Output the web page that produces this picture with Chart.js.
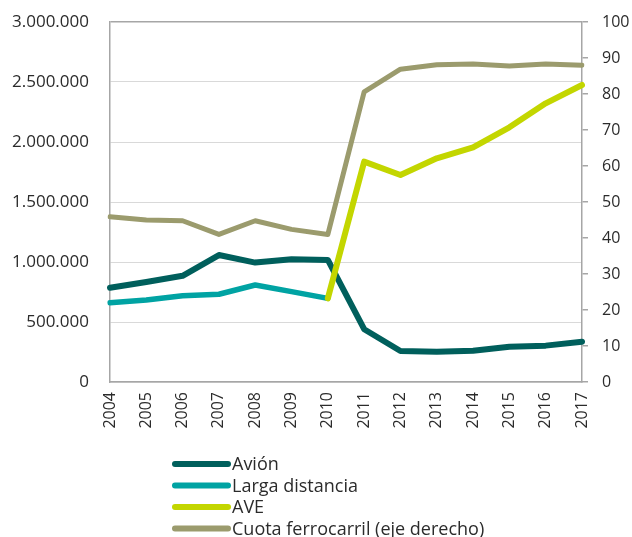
<!DOCTYPE html>
<html>
<head>
<meta charset="utf-8">
<script src="https://cdn.jsdelivr.net/npm/chart.js@4"></script>
<style>
  html, body { margin: 0; padding: 0; background: #fff; }
  #wrap { width: 632px; height: 537px; }
</style>
</head>
<body>
<div id="wrap"><canvas id="chart" width="632" height="537"></canvas></div>
<script>
// values
const years = ["2004", "2005", "2006", "2007", "2008", "2009", "2010",
  "2011", "2012", "2013", "2014", "2015", "2016", "2017"];
const avion = [785000, 833000, 885000, 1058000, 995000, 1022000, 1017000,
  440000, 258000, 253000, 261000, 294000, 303000, 336000];
const largaDistancia = [661000, 683000, 719000, 731000, 808000, 753000, 697000,
  null, null, null, null, null, null, null];
const ave = [null, null, null, null, null, null, 697000,
  1836000, 1725000, 1864000, 1956000, 2122000, 2322000, 2475000];
const cuotaFerrocarril = [45.9, 45.0, 44.8, 41.0, 44.8, 42.4, 41.0,
  80.6, 86.9, 88.1, 88.3, 87.8, 88.3, 88.0];

const FONT = "'Open Sans', sans-serif";
const TEXT = "#2b2b2b";
const AXIS = "#a6a6a6";

function miles(v) {
  return String(v).replace(/\B(?=(\d{3})+(?!\d))/g, ".");
}

// legend stacked vertically under the axis, like the original
const stackedLegend = {
  id: "stackedLegend",
  afterDraw(chart) {
    const ctx = chart.ctx;
    ctx.save();
    ctx.font = "18px " + FONT;
    ctx.textBaseline = "middle";
    ctx.fillStyle = TEXT;
    chart.data.datasets.forEach((ds, i) => {
      const y = 464 + i * 21.5;
      ctx.beginPath();
      ctx.strokeStyle = ds.borderColor;
      ctx.lineWidth = 6;
      ctx.lineCap = "round";
      ctx.moveTo(175, y);
      ctx.lineTo(228, y);
      ctx.stroke();
      ctx.fillText(ds.label, 232, y + 1);
    });
    ctx.restore();
  }
};

const lineStyle = { pointRadius: 0, borderCapStyle: "round", borderJoinStyle: "round", tension: 0, spanGaps: false };

// keep the tick padding from pushing the plot area down
function fixVertical(width) {
  return (s) => { s.width = width; s.paddingTop = 8; s.paddingBottom = 8; };
}

new Chart(document.getElementById("chart"), {
  type: "line",
  data: {
    labels: years,
    datasets: [
      { label: "Avión", data: avion, borderColor: "#005f5c", borderWidth: 6, yAxisID: "y", order: 2, ...lineStyle },
      { label: "Larga distancia", data: largaDistancia, borderColor: "#00a3a3", borderWidth: 5.5, yAxisID: "y", order: 3, ...lineStyle },
      { label: "AVE", data: ave, borderColor: "#c3d600", borderWidth: 6, yAxisID: "y", order: 1, ...lineStyle },
      { label: "Cuota ferrocarril (eje derecho)", data: cuotaFerrocarril, borderColor: "#9b9b6d", borderWidth: 5, yAxisID: "y1", order: 4, ...lineStyle }
    ]
  },
  options: {
    responsive: false,
    animation: false,
    layout: { padding: { top: 22, left: 0, right: 0, bottom: 105 } },
    plugins: {
      legend: { display: false },
      tooltip: { enabled: false }
    },
    scales: {
      x: {
        offset: false,
        grid: { display: false, drawTicks: false },
        border: { display: true, color: AXIS, width: 1.5 },
        ticks: { color: TEXT, font: { family: FONT, size: 16 }, minRotation: 90, maxRotation: 90, padding: 10 },
        afterFit(s) { s.height = 50; }
      },
      y: {
        position: "left",
        min: 0,
        max: 3000000,
        ticks: { stepSize: 500000, color: TEXT, font: { family: FONT, size: 17 }, padding: 21, callback: miles },
        grid: {
          drawTicks: false,
          color: (c) => (c.tick && c.tick.value === 3000000 ? AXIS : "#d9d9d9"),
          lineWidth: (c) => (c.tick && c.tick.value === 3000000 ? 1.5 : 1)
        },
        border: { display: true, color: AXIS, width: 1.5 },
        afterFit: fixVertical(110)
      },
      y1: {
        position: "right",
        min: 0,
        max: 100,
        ticks: { stepSize: 10, color: TEXT, font: { family: FONT, size: 16 }, padding: 14 },
        grid: { drawOnChartArea: false, drawTicks: true, tickLength: 6, color: AXIS, lineWidth: 1.5 },
        border: { display: true, color: AXIS, width: 1.5 },
        afterFit: fixVertical(50)
      }
    }
  },
  plugins: [stackedLegend]
});
</script>
</body>
</html>
